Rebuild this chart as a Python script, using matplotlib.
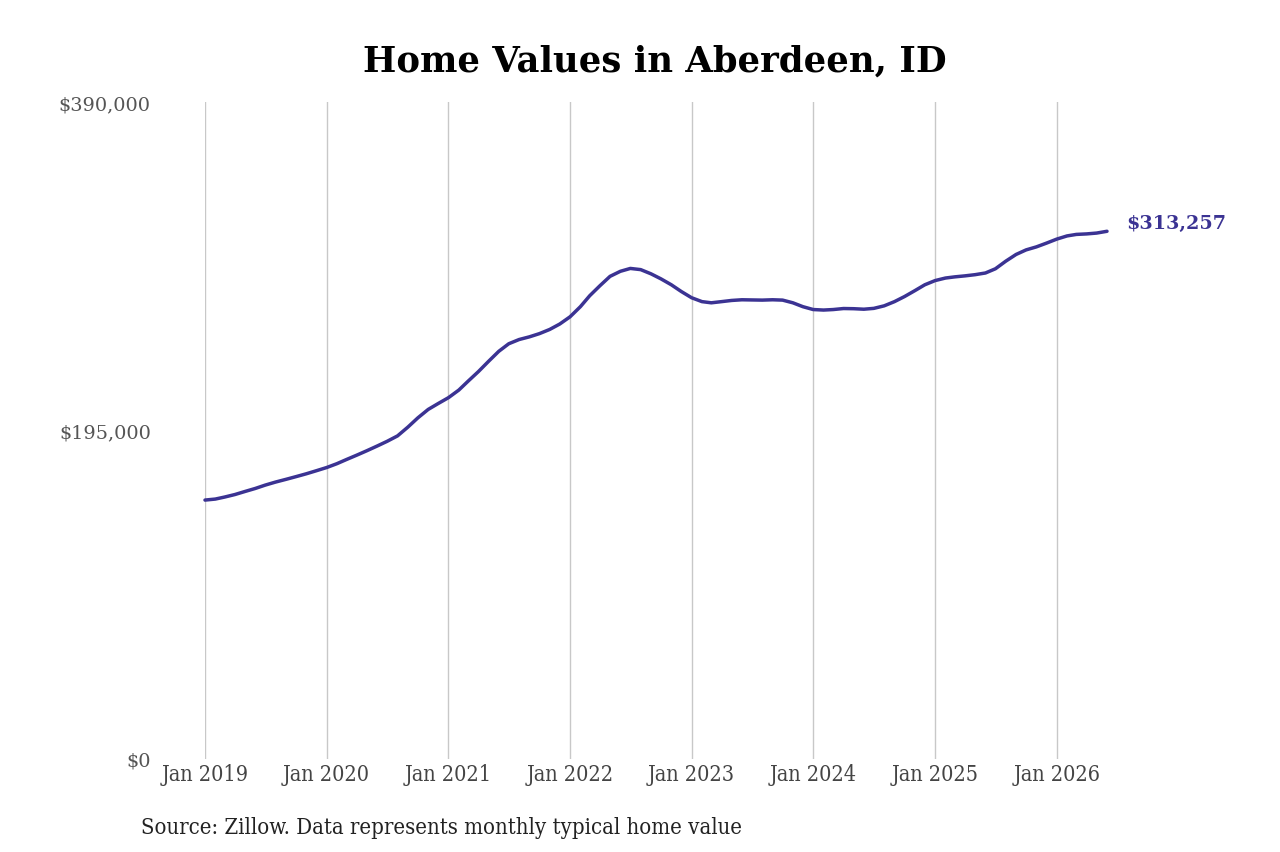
import matplotlib
matplotlib.use("Agg")
import matplotlib.pyplot as plt
import matplotlib.dates as mdates
import matplotlib.ticker as mticker
import pandas as pd

plt.rcParams["font.family"] = "DejaVu Serif"

# Monthly typical home value, Jan 2019 - Jun 2026 (thousands of $)
months = pd.date_range("2019-01-01", "2026-06-01", freq="MS")
values_k = [
    153.7, 154.3, 155.5, 157.0, 158.8, 160.6, 162.6, 164.4, 166.0, 167.6,
    169.3, 171.1, 173.0, 175.3, 177.8, 180.4, 183.0, 185.8, 188.6, 191.8,
    197.0, 202.5, 207.5, 211.0, 214.5, 219.0, 224.3, 230.0, 236.0, 242.0,
    246.5, 249.0, 250.6, 252.5, 255.0, 258.2, 262.5, 268.5, 275.0, 281.0,
    286.5, 289.5, 291.2, 290.5, 288.0, 285.0, 281.5, 277.5, 273.8, 271.5,
    270.8, 271.5, 272.2, 272.6, 272.5, 272.4, 272.6, 272.4, 270.8, 268.5,
    266.8, 266.5, 266.8, 267.4, 267.3, 267.0, 267.5, 269.0, 271.5, 274.5,
    278.0, 281.5, 284.0, 285.5, 286.2, 286.8, 287.5, 288.5, 291.0, 295.5,
    299.5, 302.2, 304.0, 306.2, 308.6, 310.5, 311.4, 311.7, 312.2, 313.257,
]
values = [v * 1000 for v in values_k]

title = "Home Values in Aberdeen, ID"
source = "Source: Zillow. Data represents monthly typical home value"
yticks = [0, 195000, 390000]
line_color = "#3b3393"

fig = plt.figure(figsize=(12.8, 8.53), dpi=100)
ax = fig.add_axes([205 / 1280, 93 / 853, 902 / 1280, 657 / 853])

ax.plot(months, values, color=line_color, linewidth=2.5, solid_capstyle="round",
        clip_on=False, zorder=3)

ax.set_xlim(months[0], months[-1])
ax.set_ylim(0, 390000)

ax.xaxis.set_major_locator(mdates.YearLocator())
ax.xaxis.set_major_formatter(mdates.DateFormatter("Jan %Y"))
ax.set_yticks(yticks)
ax.yaxis.set_major_formatter(mticker.FuncFormatter(lambda v, _: f"${v:,.0f}"))

ax.grid(axis="x", color="#c8c8c8", linewidth=1)
ax.set_axisbelow(True)
for s in ax.spines.values():
    s.set_visible(False)
ax.tick_params(axis="both", length=0, labelcolor="#444444")
ax.tick_params(axis="x", pad=3, labelsize=15.5)
ax.tick_params(axis="y", pad=39, labelsize=13.9, labelcolor="#555555")
for lab in ax.get_xticklabels():
    lab.set_fontstretch("condensed")

last_val = values[-1]
ax.annotate(f"${last_val:,.0f}", xy=(months[-1], last_val), xytext=(14, 6),
            textcoords="offset points", ha="left", va="center",
            fontsize=13.8, fontweight="bold", color=line_color)

fig.text(655 / 1280, 1 - 62 / 853, title, ha="center", va="center",
         fontsize=25.5, fontweight="bold", color="black")
fig.text(141 / 1280, 1 - 828 / 853, source, ha="left", va="center",
         fontsize=15.8, fontstretch="condensed", color="#222222")

fig.savefig("out.png", dpi=100)
